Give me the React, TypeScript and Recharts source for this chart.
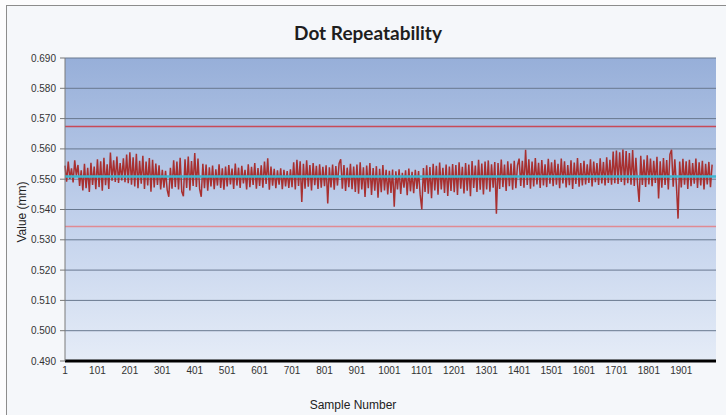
import { CartesianGrid, Line, LineChart, ReferenceLine, XAxis, YAxis } from "recharts";

// measured dot value (mm), one reading every 5 samples, 1..1996
const dotValues = [
  0.5545, 0.5492, 0.5558, 0.5501, 0.5536, 0.5489, 0.5562, 0.5512, 0.5547, 0.5478, 0.5529, 0.5463, 0.5551, 0.5470, 0.5538, 0.5458, 0.5554, 0.5481, 0.5542, 0.5467,
  0.5566, 0.5474, 0.5559, 0.5462, 0.5571, 0.5480, 0.5549, 0.5468, 0.5588, 0.5495, 0.5562, 0.5491, 0.5575, 0.5488, 0.5553, 0.5496, 0.5569, 0.5490, 0.5581, 0.5487,
  0.5589, 0.5482, 0.5572, 0.5476, 0.5584, 0.5470, 0.5561, 0.5485, 0.5577, 0.5468, 0.5558, 0.5479, 0.5570, 0.5459, 0.5564, 0.5473, 0.5552, 0.5481, 0.5546, 0.5466,
  0.5531, 0.5472, 0.5528, 0.5465, 0.5442, 0.5538, 0.5469, 0.5562, 0.5474, 0.5558, 0.5466, 0.5571, 0.5459, 0.5444, 0.5566, 0.5471, 0.5575, 0.5463, 0.5560, 0.5478,
  0.5586, 0.5474, 0.5568, 0.5468, 0.5442, 0.5551, 0.5470, 0.5548, 0.5462, 0.5539, 0.5476, 0.5545, 0.5467, 0.5533, 0.5479, 0.5549, 0.5471, 0.5536, 0.5465, 0.5542,
  0.5476, 0.5547, 0.5483, 0.5535, 0.5468, 0.5552, 0.5479, 0.5538, 0.5471, 0.5544, 0.5486, 0.5531, 0.5466, 0.5549, 0.5474, 0.5541, 0.5481, 0.5553, 0.5469, 0.5537,
  0.5478, 0.5546, 0.5472, 0.5558, 0.5484, 0.5569, 0.5465, 0.5542, 0.5479, 0.5534, 0.5470, 0.5529, 0.5482, 0.5536, 0.5467, 0.5531, 0.5476, 0.5527, 0.5471, 0.5533,
  0.5474, 0.5556, 0.5466, 0.5564, 0.5478, 0.5559, 0.5425, 0.5551, 0.5469, 0.5562, 0.5475, 0.5547, 0.5463, 0.5553, 0.5480, 0.5544, 0.5468, 0.5549, 0.5472, 0.5541,
  0.5477, 0.5546, 0.5420, 0.5539, 0.5473, 0.5548, 0.5465, 0.5543, 0.5479, 0.5552, 0.5566, 0.5469, 0.5547, 0.5461, 0.5538, 0.5474, 0.5551, 0.5467, 0.5542, 0.5458,
  0.5548, 0.5452, 0.5556, 0.5466, 0.5539, 0.5441, 0.5545, 0.5470, 0.5553, 0.5448, 0.5537, 0.5462, 0.5543, 0.5439, 0.5534, 0.5457, 0.5547, 0.5463, 0.5531, 0.5450,
  0.5528, 0.5455, 0.5532, 0.5409, 0.5526, 0.5466, 0.5533, 0.5451, 0.5521, 0.5472, 0.5529, 0.5447, 0.5535, 0.5460, 0.5524, 0.5454, 0.5531, 0.5468, 0.5527, 0.5449,
  0.5400, 0.5537, 0.5458, 0.5546, 0.5452, 0.5540, 0.5437, 0.5551, 0.5463, 0.5544, 0.5449, 0.5555, 0.5466, 0.5538, 0.5455, 0.5548, 0.5445, 0.5542, 0.5461, 0.5550,
  0.5457, 0.5547, 0.5448, 0.5556, 0.5469, 0.5541, 0.5453, 0.5553, 0.5462, 0.5548, 0.5444, 0.5560, 0.5471, 0.5545, 0.5458, 0.5564, 0.5465, 0.5552, 0.5450, 0.5558,
  0.5466, 0.5562, 0.5459, 0.5549, 0.5472, 0.5557, 0.5386, 0.5553, 0.5468, 0.5565, 0.5474, 0.5548, 0.5461, 0.5559, 0.5477, 0.5552, 0.5465, 0.5561, 0.5470, 0.5546,
  0.5568, 0.5478, 0.5561, 0.5472, 0.5597, 0.5481, 0.5566, 0.5469, 0.5558, 0.5476, 0.5570, 0.5483, 0.5554, 0.5471, 0.5563, 0.5479, 0.5549, 0.5474, 0.5567, 0.5485,
  0.5556, 0.5477, 0.5564, 0.5482, 0.5551, 0.5470, 0.5568, 0.5486, 0.5559, 0.5473, 0.5547, 0.5480, 0.5562, 0.5468, 0.5555, 0.5484, 0.5570, 0.5475, 0.5553, 0.5479,
  0.5561, 0.5483, 0.5549, 0.5488, 0.5566, 0.5476, 0.5558, 0.5490, 0.5553, 0.5481, 0.5569, 0.5486, 0.5557, 0.5479, 0.5572, 0.5488, 0.5564, 0.5482, 0.5591, 0.5487,
  0.5595, 0.5484, 0.5589, 0.5491, 0.5598, 0.5480, 0.5593, 0.5487, 0.5586, 0.5482, 0.5596, 0.5478, 0.5571, 0.5486, 0.5425, 0.5577, 0.5481, 0.5565, 0.5474, 0.5579,
  0.5483, 0.5568, 0.5477, 0.5561, 0.5488, 0.5574, 0.5436, 0.5559, 0.5472, 0.5570, 0.5481, 0.5563, 0.5466, 0.5582, 0.5597, 0.5475, 0.5566, 0.5479, 0.5370, 0.5558,
  0.5473, 0.5567, 0.5482, 0.5559, 0.5468, 0.5564, 0.5477, 0.5553, 0.5485, 0.5568, 0.5471, 0.5556, 0.5479, 0.5561, 0.5466, 0.5551, 0.5483, 0.5557, 0.5474, 0.5548,
];
const sampleStep = 5;

const meanValue = 0.5509;
const upperLimit = 0.5674;
const lowerLimit = 0.5344;

const xTicks = [1, 101, 201, 301, 401, 501, 601, 701, 801, 901, 1001, 1101, 1201, 1301, 1401, 1501, 1601, 1701, 1801, 1901];
const yTicks = [0.49, 0.5, 0.51, 0.52, 0.53, 0.54, 0.55, 0.56, 0.57, 0.58, 0.59];
// top label is printed as 0.690 on the original
const yTickLabels = ["0.490", "0.500", "0.510", "0.520", "0.530", "0.540", "0.550", "0.560", "0.570", "0.580", "0.690"];

const rows = dotValues.map((v, i) => ({ sample: 1 + i * sampleStep, value: v }));

const tickFont = { fontSize: 10, fill: "#333", fontFamily: "'Liberation Sans', Arial, sans-serif" };

export default function App() {
  return (
    <div
      style={{
        position: "absolute",
        left: 0,
        top: 0,
        width: 726,
        height: 415,
        background: "#fcfcfd",
        overflow: "hidden",
        fontFamily: "'Liberation Sans', Arial, sans-serif",
      }}
    >
      <div
        style={{
          position: "absolute",
          left: 6,
          top: 5,
          width: 730,
          height: 420,
          background: "#f5f7fa",
          borderTop: "1.5px solid #8c8c8c",
          borderLeft: "1.5px solid #8c8c8c",
        }}
      />
      <div
        style={{
          position: "absolute",
          left: 218,
          top: 21,
          width: 300,
          textAlign: "center",
          fontFamily: "Lato, 'Open Sans', sans-serif",
          fontWeight: 700,
          fontSize: 19,
          color: "#1e1e1e",
        }}
      >
        Dot Repeatability
      </div>
      <div style={{ position: "absolute", left: 0, top: 0 }}>
        <LineChart width={726} height={415} data={rows} margin={{ top: 58, right: 10, bottom: 0, left: 0 }}>
          <defs>
            <linearGradient id="plotBg" x1="0" y1="0" x2="0" y2="1">
              <stop offset="0%" stopColor="#97afd9" />
              <stop offset="55%" stopColor="#c3d2ec" />
              <stop offset="100%" stopColor="#e5ecf7" />
            </linearGradient>
          </defs>
          <CartesianGrid vertical={false} stroke="#68788f" fill="url(#plotBg)" fillOpacity={1} />
          <XAxis
            dataKey="sample"
            type="number"
            domain={[1, 2008]}
            ticks={xTicks}
            interval={0}
            height={54}
            tick={tickFont}
            tickLine={false}
            tickSize={4}
            tickMargin={2}
            axisLine={{ stroke: "#000", strokeWidth: 3 }}
          />
          <YAxis
            type="number"
            domain={[0.49, 0.59]}
            ticks={yTicks}
            interval={0}
            width={65}
            tick={tickFont}
            tickSize={5}
            tickMargin={4}
            tickLine={{ stroke: "#777" }}
            axisLine={{ stroke: "#7a7a7a" }}
            tickFormatter={(v: number, i: number) => yTickLabels[i] ?? v.toFixed(3)}
          />
          <ReferenceLine y={upperLimit} stroke="#c84a58" strokeWidth={1.5} />
          <ReferenceLine y={lowerLimit} stroke="#e08a93" strokeWidth={1.5} />
          <Line
            dataKey="value"
            type="linear"
            stroke="#a83030"
            strokeWidth={1.5}
            dot={false}
            activeDot={false}
            isAnimationActive={false}
          />
          <ReferenceLine y={meanValue} stroke="#3fb6cf" strokeWidth={2.5} />
        </LineChart>
      </div>
      <div
        style={{
          position: "absolute",
          left: 253,
          top: 398,
          width: 200,
          textAlign: "center",
          fontSize: 12,
          lineHeight: "14px",
          color: "#222",
        }}
      >
        Sample Number
      </div>
      <div
        style={{
          position: "absolute",
          left: -28,
          top: 205,
          width: 100,
          height: 14,
          lineHeight: "14px",
          textAlign: "center",
          fontSize: 12,
          color: "#222",
          transform: "rotate(-90deg)",
        }}
      >
        Value (mm)
      </div>
    </div>
  );
}
